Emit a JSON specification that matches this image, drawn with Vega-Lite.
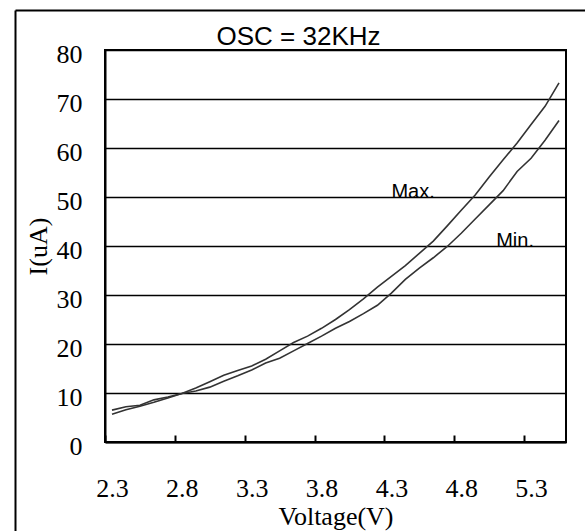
{
  "$schema": "https://vega.github.io/schema/vega-lite/v6.json",
  "width": 461,
  "height": 392,
  "autosize": {"type": "none"},
  "padding": {"left": 105, "top": 50, "right": 19, "bottom": 89},
  "background": "white",
  "config": {
    "view": {"stroke": "black", "strokeWidth": 2},
    "axis": {"labelColor": "black", "titleColor": "black", "domainColor": "black", "domainWidth": 2}
  },
  "title": {
    "text": "OSC = 32KHz",
    "font": "Liberation Sans",
    "fontSize": 26,
    "fontWeight": "normal",
    "color": "black",
    "anchor": "middle",
    "frame": "group",
    "dx": -37,
    "offset": -61,
    "baseline": "alphabetic"
  },
  "datasets": {
    "curves": [
      {"V": 2.3, "I": 5.65, "series": "Max"},
      {"V": 2.4, "I": 6.6, "series": "Max"},
      {"V": 2.5, "I": 7.3, "series": "Max"},
      {"V": 2.6, "I": 8.1, "series": "Max"},
      {"V": 2.7, "I": 9.0, "series": "Max"},
      {"V": 2.8, "I": 9.9, "series": "Max"},
      {"V": 2.9, "I": 11.0, "series": "Max"},
      {"V": 3.0, "I": 12.3, "series": "Max"},
      {"V": 3.1, "I": 13.6, "series": "Max"},
      {"V": 3.2, "I": 14.6, "series": "Max"},
      {"V": 3.3, "I": 15.5, "series": "Max"},
      {"V": 3.4, "I": 16.9, "series": "Max"},
      {"V": 3.5, "I": 18.6, "series": "Max"},
      {"V": 3.6, "I": 20.3, "series": "Max"},
      {"V": 3.7, "I": 21.6, "series": "Max"},
      {"V": 3.8, "I": 23.2, "series": "Max"},
      {"V": 3.9, "I": 25.0, "series": "Max"},
      {"V": 4.0, "I": 27.0, "series": "Max"},
      {"V": 4.1, "I": 29.2, "series": "Max"},
      {"V": 4.2, "I": 31.6, "series": "Max"},
      {"V": 4.3, "I": 33.8, "series": "Max"},
      {"V": 4.4, "I": 36.0, "series": "Max"},
      {"V": 4.5, "I": 38.5, "series": "Max"},
      {"V": 4.6, "I": 41.0, "series": "Max"},
      {"V": 4.7, "I": 44.1, "series": "Max"},
      {"V": 4.8, "I": 47.3, "series": "Max"},
      {"V": 4.9, "I": 50.4, "series": "Max"},
      {"V": 5.0, "I": 54.1, "series": "Max"},
      {"V": 5.1, "I": 57.6, "series": "Max"},
      {"V": 5.2, "I": 61.0, "series": "Max"},
      {"V": 5.3, "I": 64.8, "series": "Max"},
      {"V": 5.4, "I": 68.5, "series": "Max"},
      {"V": 5.5, "I": 73.3, "series": "Max"},
      {"V": 2.3, "I": 6.5, "series": "Min"},
      {"V": 2.4, "I": 7.2, "series": "Min"},
      {"V": 2.5, "I": 7.5, "series": "Min"},
      {"V": 2.6, "I": 8.6, "series": "Min"},
      {"V": 2.7, "I": 9.2, "series": "Min"},
      {"V": 2.8, "I": 9.9, "series": "Min"},
      {"V": 2.9, "I": 10.4, "series": "Min"},
      {"V": 3.0, "I": 11.2, "series": "Min"},
      {"V": 3.1, "I": 12.4, "series": "Min"},
      {"V": 3.2, "I": 13.5, "series": "Min"},
      {"V": 3.3, "I": 14.7, "series": "Min"},
      {"V": 3.4, "I": 16.1, "series": "Min"},
      {"V": 3.5, "I": 17.1, "series": "Min"},
      {"V": 3.6, "I": 18.6, "series": "Min"},
      {"V": 3.7, "I": 20.1, "series": "Min"},
      {"V": 3.8, "I": 21.6, "series": "Min"},
      {"V": 3.9, "I": 23.2, "series": "Min"},
      {"V": 4.0, "I": 24.6, "series": "Min"},
      {"V": 4.1, "I": 26.2, "series": "Min"},
      {"V": 4.2, "I": 27.9, "series": "Min"},
      {"V": 4.3, "I": 30.4, "series": "Min"},
      {"V": 4.4, "I": 33.2, "series": "Min"},
      {"V": 4.5, "I": 35.5, "series": "Min"},
      {"V": 4.6, "I": 37.6, "series": "Min"},
      {"V": 4.7, "I": 39.9, "series": "Min"},
      {"V": 4.8, "I": 42.6, "series": "Min"},
      {"V": 4.9, "I": 45.5, "series": "Min"},
      {"V": 5.0, "I": 48.4, "series": "Min"},
      {"V": 5.1, "I": 51.3, "series": "Min"},
      {"V": 5.2, "I": 55.2, "series": "Min"},
      {"V": 5.3, "I": 57.9, "series": "Min"},
      {"V": 5.4, "I": 61.6, "series": "Min"},
      {"V": 5.5, "I": 65.6, "series": "Min"}
    ],
    "notes": [
      {"label": "Max.", "V": 4.3, "I": 50},
      {"label": "Min.", "V": 5.05, "I": 40}
    ]
  },
  "resolve": {"scale": {"x": "independent", "y": "independent"}, "axis": {"x": "independent", "y": "independent"}},
  "layer": [
    {
      "data": {"name": "curves"},
      "mark": {"type": "line", "color": "#333333", "strokeWidth": 1.6},
      "encoding": {
        "x": {
          "field": "V",
          "type": "quantitative",
          "scale": {"domain": [2.25, 5.55], "nice": false, "zero": false},
          "axis": {
            "orient": "bottom",
            "values": [2.25, 2.75, 3.25, 3.75, 4.25, 4.75, 5.25],
            "labelExpr": "format(datum.value + 0.05, '.1f')",
            "labelOffset": 7,
            "tickSize": -7,
            "tickColor": "black",
            "tickWidth": 2,
            "grid": false,
            "labelFont": "Liberation Serif",
            "labelFontSize": 26,
            "labelPadding": 40,
            "labelFlush": false,
            "labelOverlap": false,
            "title": "Voltage(V)",
            "titleFont": "Liberation Serif",
            "titleFontSize": 26,
            "titleFontWeight": "normal",
            "titlePadding": 2
          }
        },
        "y": {
          "field": "I",
          "type": "quantitative",
          "scale": {"domain": [0, 80], "nice": false},
          "axis": {
            "orient": "left",
            "values": [0, 10, 20, 30, 40, 50, 60, 70, 80],
            "grid": true,
            "gridColor": "black",
            "gridWidth": 1.5,
            "gridOpacity": 1,
            "ticks": false,
            "labelFont": "Liberation Serif",
            "labelFontSize": 26,
            "labelPadding": 23,
            "labelOffset": 4,
            "labelFlush": false,
            "labelOverlap": false,
            "title": "I(uA)",
            "titleFont": "Liberation Serif",
            "titleFontSize": 26,
            "titleFontWeight": "normal",
            "titlePadding": 5
          }
        },
        "detail": {"field": "series", "type": "nominal"}
      }
    },
    {
      "data": {"name": "notes"},
      "mark": {"type": "text", "font": "Liberation Sans", "fontSize": 20, "color": "black", "align": "left", "baseline": "alphabetic", "dy": 1},
      "encoding": {
        "x": {"field": "V", "type": "quantitative", "scale": {"domain": [2.25, 5.55], "nice": false, "zero": false}, "axis": null},
        "y": {"field": "I", "type": "quantitative", "scale": {"domain": [0, 80], "nice": false}, "axis": null},
        "text": {"field": "label", "type": "nominal"}
      }
    },
    {
      "data": {"name": "notes"},
      "mark": {"type": "point", "opacity": 0},
      "encoding": {
        "x": {
          "field": "V",
          "type": "quantitative",
          "scale": {"domain": [2.25, 5.55], "nice": false, "zero": false, "range": [-90, 480]},
          "axis": {"orient": "top", "offset": 40, "labels": false, "ticks": false, "grid": false, "title": null, "domain": true, "domainColor": "black", "domainWidth": 2}
        },
        "y": {
          "field": "I",
          "type": "quantitative",
          "scale": {"domain": [0, 80], "nice": false, "range": [481, -40]},
          "axis": {"orient": "left", "offset": 90, "labels": false, "ticks": false, "grid": false, "title": null, "domain": true, "domainColor": "black", "domainWidth": 2}
        }
      }
    }
  ]
}
